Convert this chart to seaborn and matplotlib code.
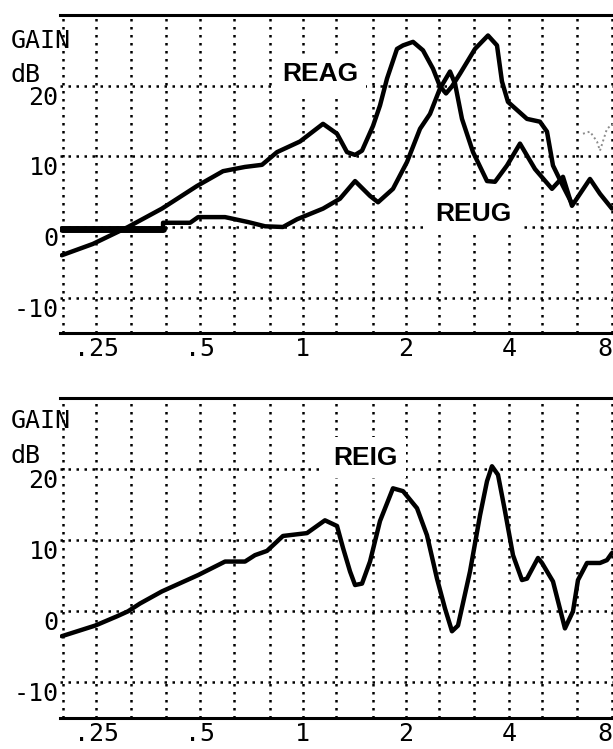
import matplotlib
matplotlib.use("Agg")
import matplotlib.pyplot as plt
from matplotlib.ticker import FixedLocator, FixedFormatter, NullFormatter
import pandas as pd
import seaborn as sns

# ---- data: frequency in kHz, gain in dB ----
reag_khz = [0.198, 0.244, 0.309, 0.388, 0.491, 0.585, 0.678, 0.760, 0.841, 0.981,
            1.145, 1.258, 1.345, 1.420, 1.488, 1.602, 1.679, 1.760, 1.882, 1.960,
            2.096, 2.241, 2.397, 2.512, 2.616, 2.723, 2.874, 3.178, 3.468, 3.684,
            3.809, 3.966, 4.506, 4.917, 5.154, 5.366, 5.738, 6.096]
reag_db = [-4.0, -2.4, 0.0, 2.6, 5.8, 7.9, 8.5, 8.8, 10.6, 12.1,
           14.6, 13.2, 10.6, 10.2, 10.8, 14.3, 17.2, 21.0, 25.2, 25.7,
           26.2, 25.0, 22.4, 19.9, 18.9, 19.9, 21.7, 25.2, 27.1, 25.7,
           20.6, 17.7, 15.3, 14.9, 13.5, 8.7, 5.8, 3.3]

# faintly printed end of the aided trace
reag_tail_khz = [6.563, 6.879, 7.212, 7.357, 7.711, 8.03]
reag_tail_db = [13.2, 13.5, 12.1, 10.8, 13.9, 14.6]

reug_khz = [0.198, 0.391, 0.391, 0.469, 0.495, 0.593, 0.692, 0.776, 0.875, 0.962,
            1.145, 1.283, 1.420, 1.570, 1.657, 1.832, 2.013, 2.197, 2.349, 2.512,
            2.687, 2.779, 2.912, 3.136, 3.445, 3.635, 3.940, 4.299, 4.755, 5.330,
            5.738, 6.096, 6.879, 7.357, 7.973]
reug_db = [-0.3, -0.3, 0.6, 0.6, 1.4, 1.4, 0.7, 0.1, 0.0, 1.1,
           2.6, 4.0, 6.5, 4.4, 3.5, 5.4, 9.2, 13.9, 16.0, 19.6,
           22.0, 20.3, 15.3, 10.6, 6.5, 6.4, 8.7, 11.8, 8.2, 5.4,
           7.1, 3.0, 6.8, 4.7, 2.6]

reig_khz = [0.198, 0.248, 0.287, 0.309, 0.335, 0.388, 0.495, 0.593, 0.678, 0.725,
            0.786, 0.875, 1.028, 1.160, 1.258, 1.310, 1.373, 1.420, 1.488, 1.570,
            1.679, 1.832, 1.960, 2.153, 2.302, 2.462, 2.598, 2.723, 2.835, 3.073,
            3.287, 3.445, 3.562, 3.709, 3.887, 4.102, 4.357, 4.506, 4.852, 4.984,
            5.366, 5.815, 6.137, 6.347, 6.742, 7.357, 7.711, 7.973]
reig_db = [-3.5, -2.0, -0.7, 0.0, 1.1, 2.8, 5.1, 7.0, 7.0, 7.9,
           8.5, 10.6, 11.0, 12.8, 12.0, 8.9, 5.6, 3.7, 3.9, 7.0,
           12.7, 17.3, 16.9, 14.5, 10.7, 4.6, 0.4, -2.8, -2.0, 5.6,
           13.5, 18.3, 20.4, 19.2, 14.1, 7.9, 4.4, 4.6, 7.5, 6.8,
           4.2, -2.4, 0.0, 4.4, 6.8, 6.8, 7.2, 8.2]

# axis ticks
freq_ticks = [0.25, 0.5, 1, 2, 4, 8]
freq_labels = [".25", ".5", "1", "2", "4", "8"]
third_octaves = [0.2, 0.25, 0.315, 0.4, 0.5, 0.63, 0.8, 1, 1.25, 1.6, 2,
                 2.5, 3.15, 4, 5, 6.3, 8]
gain_ticks = [-10, 0, 10, 20]
gain_labels = ["-10", "0", "10", "20"]

sns.set_theme(style="white")
plt.rcParams["font.family"] = ["DejaVu Sans"]
plt.rcParams["text.color"] = "black"

MONO = "DejaVu Sans Mono"
W, H = 613, 749
fig = plt.figure(figsize=(W / 100, H / 100), dpi=100)
ax1 = fig.add_axes([60 / W, 1 - 333 / H, 553 / W, 318 / H])
ax2 = fig.add_axes([60 / W, 1 - 718 / H, 553 / W, 320 / H])

dots = (0, (1, 2.2))


def style(ax):
    ax.set_xscale("log", base=2)
    ax.set_xlim(0.1957, 8.03)
    ax.set_ylim(-15, 30)
    ax.xaxis.set_major_locator(FixedLocator(freq_ticks))
    ax.xaxis.set_major_formatter(FixedFormatter(freq_labels))
    ax.xaxis.set_minor_locator(FixedLocator(third_octaves))
    ax.xaxis.set_minor_formatter(NullFormatter())
    ax.yaxis.set_major_locator(FixedLocator(gain_ticks))
    ax.yaxis.set_major_formatter(FixedFormatter(gain_labels))
    ax.grid(False)
    ax.grid(True, which="both", axis="x", color="black", linestyle=dots, linewidth=1.8)
    ax.grid(True, which="major", axis="y", color="black", linestyle=dots, linewidth=1.8)
    ax.set_axisbelow(True)
    ax.tick_params(which="both", length=0, labelsize=18, labelcolor="black",
                   labelfontfamily=MONO)
    ax.tick_params(axis="x", pad=3)
    ax.tick_params(axis="y", pad=1)
    for lab in ax.get_yticklabels():
        lab.set_verticalalignment("top")
    # the last frequency label sits on the right edge; keep it inside
    ax.get_xticklabels()[-1].set_horizontalalignment("right")
    for side in ("left", "right"):
        ax.spines[side].set_visible(False)
    for side in ("top", "bottom"):
        ax.spines[side].set_visible(True)
        ax.spines[side].set_color("black")
        ax.spines[side].set_linewidth(2.2)
    ax.set_xlabel("")
    ax.set_ylabel("")
    ax.set_facecolor("white")


line_kw = dict(color="black", linewidth=3.2, sort=False, estimator=None,
               solid_capstyle="round", solid_joinstyle="round", zorder=3)

# curve names sit on a white patch that blanks the grid dots behind them
name_kw = dict(ha="center", va="baseline", fontsize=19, fontweight="bold",
               family="Liberation Sans", color="black", zorder=1.5,
               bbox=dict(facecolor="white", edgecolor="none", pad=6))

# upper panel: aided and unaided gain
sns.lineplot(x=reag_khz, y=reag_db, ax=ax1, **line_kw)
sns.lineplot(x=reug_khz, y=reug_db, ax=ax1, **line_kw)
sns.lineplot(x=reug_khz[:2], y=reug_db[:2], ax=ax1, color="black", linewidth=5.0,
             sort=False, estimator=None, zorder=3)
sns.lineplot(x=reag_tail_khz, y=reag_tail_db, ax=ax1, color="0.55", linewidth=1.4,
             linestyle=(0, (1, 1.5)), sort=False, estimator=None, zorder=3)
style(ax1)
ax1.text(1.122, 20.6, "REAG", **name_kw)
ax1.text(3.136, 0.9, "REUG", **name_kw)

# lower panel: insertion gain
sns.lineplot(x=reig_khz, y=reig_db, ax=ax2, **line_kw)
style(ax2)
ax2.text(1.518, 20.6, "REIG", **name_kw)

# axis captions in the upper-left corner of each panel
for base_gain, base_db in ((48, 82), (428, 463)):
    fig.text(11 / W, 1 - base_gain / H, "GAIN", fontsize=18, family=MONO,
             color="black", va="baseline", ha="left")
    fig.text(11 / W, 1 - base_db / H, "dB", fontsize=18, family=MONO,
             color="black", va="baseline", ha="left")

fig.savefig("out.png", dpi=100, facecolor="white")
